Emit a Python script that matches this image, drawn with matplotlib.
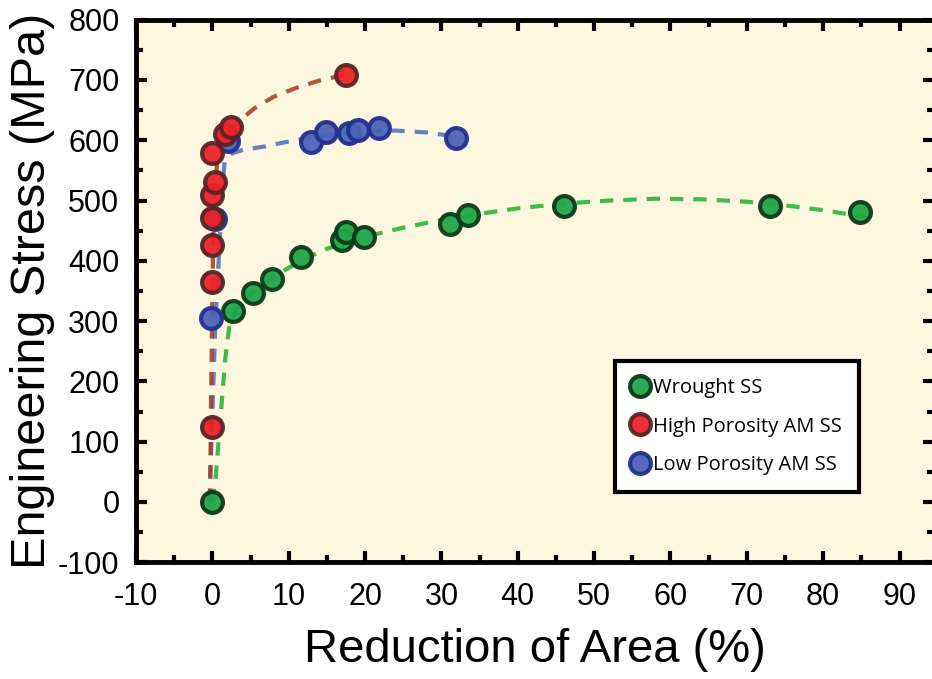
import matplotlib.pyplot as plt
from matplotlib.ticker import MultipleLocator

# measured points
wrought_x = [0, 2.7, 5.3, 7.8, 11.6, 17.0, 17.5, 19.9, 31.1, 33.5, 46.1, 73.0, 84.8]
wrought_y = [0, 317, 347, 370, 407, 435, 448, 440, 461, 476, 491, 491, 481]

high_x = [0, 0, 0, 0, 0, 0.4, 0, 1.6, 2.4, 17.5]
high_y = [125, 365, 426, 471, 509, 531, 579, 611, 622, 709]

low_x = [-0.2, 0.3, 2.0, 12.9, 14.9, 17.9, 19.1, 21.8, 31.9]
low_y = [305, 470, 598, 597, 614, 612, 617, 621, 604]

# dashed guide curves
wrought_fit_x = [0, 0.4, 1.1, 1.7, 2.3, 3.5, 5.5, 8, 11.5, 15, 20, 25, 30, 35, 40, 46, 52, 58, 64, 70, 75, 80, 86.4]
wrought_fit_y = [0, 36, 147, 240, 300, 328, 350, 373, 400, 420, 440, 455, 468, 478, 487, 495, 500, 503, 502, 498, 492, 484, 471]

high_fit_x = [-0.3, -0.2, 0, 0.2, 0.6, 1.2, 2.2, 3.5, 5.5, 8, 11, 14, 17.5]
high_fit_y = [0, 150, 350, 500, 560, 590, 615, 632, 653, 672, 687, 699, 709]

low_fit_x = [-0.4, 0, 0.4, 0.9, 1.3, 1.6, 2.5, 4, 7, 10, 13, 16, 20, 24, 28, 32]
low_fit_y = [0, 150, 300, 420, 520, 565, 578, 584, 590, 598, 605, 610, 615, 616, 613, 606]

plt.rcParams['font.family'] = ['Liberation Sans', 'DejaVu Sans']
plt.rcParams['axes.unicode_minus'] = False

fig = plt.figure(figsize=(9.32, 6.79), dpi=100)
ax = fig.add_axes([0.146, 0.172, 0.856, 0.799])
ax.set_facecolor('#fdf7e0')

ms = 15
ax.plot(wrought_fit_x, wrought_fit_y, '--', color='#3fba4c', lw=3, dashes=(3.2, 2.4), zorder=2)
ax.plot(low_fit_x, low_fit_y, '--', color='#4a6cc0', lw=3, dashes=(3.2, 2.4), alpha=0.85, zorder=2)
ax.plot(high_fit_x, high_fit_y, '--', color='#a8391e', lw=3, dashes=(3.2, 2.4), alpha=0.85, zorder=2)

ax.plot(wrought_x, wrought_y, 'o', ms=ms, mfc='#22a54b', mec='#0b3a18', mew=3,
        alpha=0.95, label='Wrought SS', zorder=3)
ax.plot(low_x, low_y, 'o', ms=ms, mfc='#4d63b8', mec='#22308f', mew=3,
        alpha=0.95, label='Low Porosity AM SS', zorder=3)
ax.plot(high_x, high_y, 'o', ms=ms, mfc='#ec2228', mec='#5b2426', mew=3,
        alpha=0.95, label='High Porosity AM SS', zorder=4)

ax.set_xlim(-10, 94.5)
ax.set_ylim(-100, 800)
ax.xaxis.set_major_locator(MultipleLocator(10))
ax.xaxis.set_minor_locator(MultipleLocator(5))
ax.yaxis.set_major_locator(MultipleLocator(100))
ax.yaxis.set_minor_locator(MultipleLocator(50))
ax.tick_params(which='both', direction='in', top=True, right=True, width=3,
               labelsize=22)
ax.tick_params(axis='x', pad=14)
ax.tick_params(axis='y', pad=12)
ax.tick_params(which='major', length=8)
ax.tick_params(which='minor', length=5)
for s in ax.spines.values():
    s.set_linewidth(3.5)

ax.set_xlabel('Reduction of Area (%)', fontsize=34, labelpad=12)
ax.set_ylabel('Engineering Stress (MPa)', fontsize=35, labelpad=2)

h, l = ax.get_legend_handles_labels()
order = [0, 2, 1]
leg = ax.legend([h[i] for i in order], [l[i] for i in order],
                loc='lower right', bbox_to_anchor=(0.916, 0.115),
                frameon=True, fancybox=False, edgecolor='black',
                prop={'family': 'Open Sans', 'size': 14.5}, handlelength=0.8,
                handletextpad=0.25, labelspacing=0.9, borderpad=0.85,
                borderaxespad=0.4)
leg.get_frame().set_linewidth(3)
leg.get_frame().set_facecolor('white')
leg.get_frame().set_alpha(1)

fig.savefig('out.png', dpi=100)
